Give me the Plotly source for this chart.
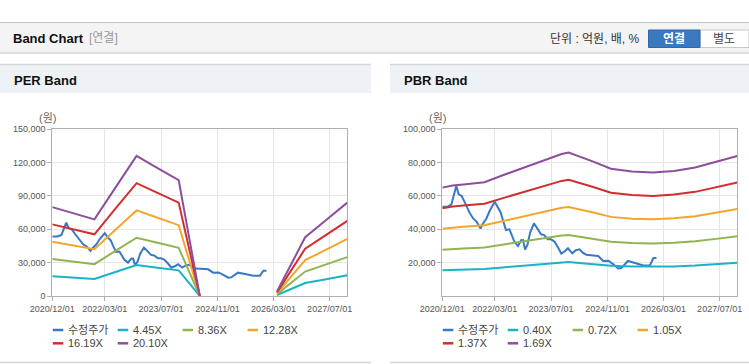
import plotly.graph_objects as go

W, H = 749, 364

# ---------------- data ----------------
TICK_DATES = ["2020-12-01", "2022-03-01", "2023-07-01", "2024-11-01", "2026-03-01", "2027-07-01"]
TICK_LABELS = ["2020/12/01", "2022/03/01", "2023/07/01", "2024/11/01", "2026/03/01", "2027/07/01"]

PRICE_DATES = ["2020-12-01", "2021-01-15", "2021-02-18", "2021-03-10", "2021-04-01", "2021-04-22",
               "2021-05-18", "2021-06-15", "2021-07-25", "2021-08-25", "2021-09-25", "2021-10-28",
               "2021-11-15", "2021-12-18", "2022-01-15", "2022-02-28", "2022-03-25", "2022-04-22",
               "2022-05-10", "2022-06-06", "2022-07-06", "2022-07-25", "2022-08-18", "2022-09-18",
               "2022-10-15", "2022-11-01", "2022-11-18", "2022-12-10", "2023-01-01", "2023-02-03",
               "2023-03-06", "2023-04-06", "2023-05-03", "2023-06-03", "2023-07-01", "2023-08-01",
               "2023-09-01", "2023-09-28", "2023-11-01", "2023-11-25", "2024-01-01", "2024-02-01",
               "2024-03-04", "2024-04-01", "2024-05-01", "2024-06-28", "2024-08-13", "2024-09-25",
               "2024-11-10", "2024-12-22", "2025-02-03", "2025-03-01", "2025-04-28", "2025-06-28",
               "2025-08-10", "2025-09-07", "2025-11-04", "2025-11-19", "2025-12-04", "2025-12-31"]
PRICE_VALUES = [53500, 53500, 55000, 60000, 66000, 61000, 60000, 56000, 50000, 46500, 44500, 40500,
                43000, 46500, 51000, 56500, 53000, 50000, 45500, 39600, 40000, 37000, 32500, 30000,
                33500, 33600, 27800, 31000, 38000, 43600, 40600, 37000, 36500, 34000, 34000, 32600,
                29000, 25500, 27000, 28600, 25600, 27500, 28000, 26000, 24800, 24500, 24000, 21000,
                21200, 19000, 16500, 16800, 21000, 19800, 19000, 18300, 18300, 20500, 22800, 22800]

PER_DATES = ["2020-12-01", "2021-06-01", "2021-12-01", "2022-06-01", "2022-12-01", "2023-06-01",
             "2023-12-01", "2024-06-01", "2025-05-01", "2026-04-01", "2026-08-01", "2026-12-01",
             "2027-06-01", "2027-12-01"]
PER_NAMES = ["4.45X", "8.36X", "12.28X", "16.19X", "20.10X"]
PER_445 = [17710, 16510, 15260, 21580, 27900, 25500, 23100, 0, None, 890, 6280, 11700, 15130, 18600]
PER_836 = [33270, 31020, 28680, 40550, 52420, 47900, 43390, 0, None, 1670, 11790, 21990, 28420, 34950]
PER_1228 = [48870, 45560, 42120, 59560, 77000, 70360, 63730, 0, None, 2460, 17320, 32300, 41750, 51330]
PER_1619 = [64440, 60070, 55530, 78520, 101510, 92770, 84030, 0, None, 3240, 22830, 42580, 55050, 67670]
PER_2010 = [80000, 74570, 68940, 97490, 126030, 115170, 104320, 0, None, 4020, 28340, 52860, 68340, 84020]

PBR_DATES = ["2020-12-01", "2021-03-01", "2021-06-01", "2021-12-01", "2022-06-01", "2022-12-01",
             "2023-06-01", "2023-10-01", "2023-12-01", "2024-03-01", "2024-07-01", "2024-12-01",
             "2025-06-01", "2025-12-01", "2026-06-01", "2026-12-01", "2027-06-01", "2027-12-01"]
PBR_NAMES = ["0.40X", "0.72X", "1.05X", "1.37X", "1.69X"]
PBR_040 = [15380, 15680, 15840, 16160, 17280, 18400, 19440, 20160, 20360, 19840, 19080, 18080,
           17680, 17520, 17760, 18240, 19040, 19880]
PBR_072 = [27690, 28220, 28510, 29090, 31100, 33120, 34990, 36290, 36650, 35710, 34340, 32540,
           31820, 31540, 31970, 32830, 34270, 35780]
PBR_105 = [40380, 41160, 41580, 42420, 45360, 48300, 51030, 52920, 53450, 52080, 50090, 47460,
           46410, 45990, 46620, 47880, 49980, 52190]
PBR_137 = [52690, 53700, 54250, 55350, 59180, 63020, 66580, 69050, 69730, 67950, 65350, 61920,
           60550, 60010, 60830, 62470, 65210, 68090]
PBR_169 = [65000, 66250, 66920, 68280, 73010, 77740, 82130, 85180, 86020, 83820, 80610, 76390,
           74700, 74020, 75040, 77060, 80440, 83990]

PRICE_NAME = "수정주가"

# ---------------- styles ----------------
PRICE_COLOR = "#3a78c6"
BAND_COLORS = ["#1ab3c6", "#8fb552", "#f4a62c", "#d12f2f", "#8c4f9c"]
FONT = "Liberation Sans, Noto Sans CJK KR, sans-serif"


def px(x):
    return x / W


def py(y):
    return 1 - y / H


fig = go.Figure()

# price traces
fig.add_trace(go.Scatter(x=PRICE_DATES, y=PRICE_VALUES, mode="lines", name=PRICE_NAME,
                         line=dict(color=PRICE_COLOR, width=2), xaxis="x", yaxis="y", showlegend=False))
for vals, nm, col in zip([PER_445, PER_836, PER_1228, PER_1619, PER_2010], PER_NAMES, BAND_COLORS):
    fig.add_trace(go.Scatter(x=PER_DATES, y=vals, mode="lines", name=nm, connectgaps=False,
                             line=dict(color=col, width=2), xaxis="x", yaxis="y", showlegend=False))

fig.add_trace(go.Scatter(x=PRICE_DATES, y=PRICE_VALUES, mode="lines", name=PRICE_NAME,
                         line=dict(color=PRICE_COLOR, width=2), xaxis="x2", yaxis="y2", showlegend=False))
for vals, nm, col in zip([PBR_040, PBR_072, PBR_105, PBR_137, PBR_169], PBR_NAMES, BAND_COLORS):
    fig.add_trace(go.Scatter(x=PBR_DATES, y=vals, mode="lines", name=nm,
                             line=dict(color=col, width=2), xaxis="x2", yaxis="y2", showlegend=False))

PLOT_TOP, PLOT_BOT = 129.3, 296.0
LEFT_X0, LEFT_X1 = 52.3, 347.3
RIGHT_X0, RIGHT_X1 = 442.3, 737.3

axis_common = dict(showgrid=True, gridcolor="#e6e6e6", gridwidth=1, showline=True, linecolor="#b0b0b0",
                   linewidth=1, mirror=True, ticks="outside", ticklen=4, tickcolor="#b0b0b0",
                   tickfont=dict(family=FONT, size=9, color="#555555"), zeroline=False, fixedrange=True,
                   automargin=False)

xcommon = dict(axis_common, type="date", range=["2020-12-01", "2027-12-01"],
               tickmode="array", tickvals=TICK_DATES, ticktext=TICK_LABELS)

fig.update_layout(
    template="none",
    width=W, height=H, margin=dict(l=0, r=0, t=0, b=0, autoexpand=False),
    paper_bgcolor="white", plot_bgcolor="white", showlegend=False,
    xaxis=dict(xcommon, domain=[px(LEFT_X0), px(LEFT_X1)], anchor="y"),
    yaxis=dict(axis_common, domain=[py(PLOT_BOT), py(PLOT_TOP)], anchor="x", range=[0, 150000],
               tickmode="array", tickvals=[0, 30000, 60000, 90000, 120000, 150000], tickformat=",d"),
    xaxis2=dict(xcommon, domain=[px(RIGHT_X0), px(RIGHT_X1)], anchor="y2"),
    yaxis2=dict(axis_common, domain=[py(PLOT_BOT), py(PLOT_TOP)], anchor="x2", range=[0, 100000],
                tickmode="array", tickvals=[20000, 40000, 60000, 80000, 100000], tickformat=",d"),
)

shapes = []
annotations = []

# top header bar
shapes.append(dict(type="rect", xref="paper", yref="paper", x0=0, x1=1, y0=py(53), y1=py(22.5),
                   fillcolor="#f4f4f4", line=dict(width=0), layer="below"))
shapes.append(dict(type="line", xref="paper", yref="paper", x0=0, x1=1, y0=py(22.5), y1=py(22.5),
                   line=dict(color="#c4c4c4", width=1)))
shapes.append(dict(type="line", xref="paper", yref="paper", x0=0, x1=1, y0=py(53), y1=py(53),
                   line=dict(color="#d4d4d4", width=1.5)))

annotations.append(dict(x=px(11), y=py(38.5), xref="paper", yref="paper", xanchor="left", yanchor="middle",
                        showarrow=False, text="<b>Band Chart</b>",
                        font=dict(family=FONT, size=13, color="#111111")))
annotations.append(dict(x=px(87), y=py(38.5), xref="paper", yref="paper", xanchor="left", yanchor="middle",
                        showarrow=False, text="[연결]", font=dict(family=FONT, size=12, color="#999999")))
annotations.append(dict(x=px(642), y=py(39), xref="paper", yref="paper", xanchor="right", yanchor="middle",
                        showarrow=False, text="단위 : 억원, 배, %", font=dict(family=FONT, size=12, color="#333333")))
# buttons
shapes.append(dict(type="rect", xref="paper", yref="paper", x0=px(700), x1=px(749), y0=py(47.5), y1=py(30),
                   fillcolor="#ffffff", line=dict(color="#c8c8c8", width=1)))
shapes.append(dict(type="rect", xref="paper", yref="paper", x0=px(648.5), x1=px(700), y0=py(47.5), y1=py(30),
                   fillcolor="#3a78c0", line=dict(color="#2f69ad", width=1)))
annotations.append(dict(x=px(674), y=py(39), xref="paper", yref="paper", xanchor="center", yanchor="middle",
                        showarrow=False, text="<b>연결</b>", font=dict(family=FONT, size=12, color="#ffffff")))
annotations.append(dict(x=px(724), y=py(39), xref="paper", yref="paper", xanchor="center", yanchor="middle",
                        showarrow=False, text="별도", font=dict(family=FONT, size=12, color="#444444")))

# panels
for (p0, p1, title, plot_x0, names) in [(0, 371, "PER Band", LEFT_X0, PER_NAMES),
                                         (390, 749, "PBR Band", RIGHT_X0, PBR_NAMES)]:
    shapes.append(dict(type="rect", xref="paper", yref="paper", x0=px(p0), x1=px(p1), y0=py(93), y1=py(65),
                       fillcolor="#eef2f7", line=dict(width=0), layer="below"))
    shapes.append(dict(type="line", xref="paper", yref="paper", x0=px(p0), x1=px(p1), y0=py(64.5), y1=py(64.5),
                       line=dict(color="#d6d6d6", width=1.5)))
    shapes.append(dict(type="line", xref="paper", yref="paper", x0=px(p0), x1=px(p1), y0=py(362.5), y1=py(362.5),
                       line=dict(color="#d6d6d6", width=1.5)))
    annotations.append(dict(x=px(p0 + 12), y=py(80), xref="paper", yref="paper", xanchor="left",
                            yanchor="middle", showarrow=False, text="<b>%s</b>" % title,
                            font=dict(family=FONT, size=13, color="#111111")))
    annotations.append(dict(x=px(plot_x0 - 5), y=py(118), xref="paper", yref="paper", xanchor="center",
                            yanchor="middle", showarrow=False, text="(원)",
                            font=dict(family=FONT, size=11, color="#666666")))
    # custom legend
    labels = [PRICE_NAME] + names
    colors = [PRICE_COLOR] + BAND_COLORS
    for i, (lab, col) in enumerate(zip(labels, colors)):
        row, c = divmod(i, 4)
        lx = plot_x0 + 0.5 + c * 64.9
        ly = 330 + row * 13.3
        shapes.append(dict(type="line", xref="paper", yref="paper", x0=px(lx), x1=px(lx + 10.5),
                           y0=py(ly), y1=py(ly), line=dict(color=col, width=2.5)))
        annotations.append(dict(x=px(lx + 13), y=py(ly), xref="paper", yref="paper", xanchor="left",
                                yanchor="middle", showarrow=False, text=lab,
                                font=dict(family=FONT, size=11, color="#444444")))

fig.update_layout(shapes=shapes, annotations=annotations)

fig.write_html("out.html", config={"displayModeBar": False},
               post_script="document.body.style.margin='0';document.body.style.overflow='hidden';")
